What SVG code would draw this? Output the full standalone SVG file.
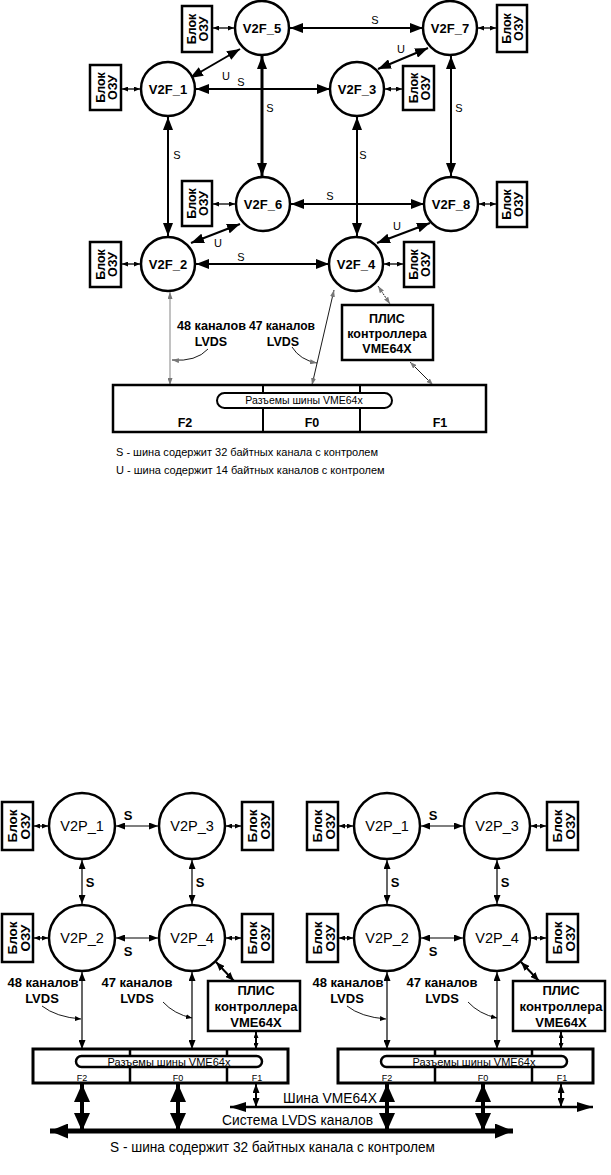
<svg xmlns="http://www.w3.org/2000/svg" width="611" height="1175" viewBox="0 0 611 1175">
<style>
text{font-family:"Liberation Sans",Arial,sans-serif;fill:#000}
.c{fill:#fff;stroke:#000;stroke-width:2.5}
.bx{fill:#fff;stroke:#000;stroke-width:2.5}
.nl{font-size:13px;font-weight:bold;text-anchor:middle}
.pl{font-size:14.5px;text-anchor:middle}
.bt{font-size:12.5px;font-weight:bold;text-anchor:middle}
.bt2{font-size:13.5px;font-weight:bold;text-anchor:middle}
.el{font-size:11px;text-anchor:middle}
.el2{font-size:13px;font-weight:bold;text-anchor:middle}
.lb{font-size:12.5px;font-weight:bold;text-anchor:middle}
.lb2{font-size:13px;font-weight:bold;text-anchor:middle}
.e2{stroke:#000;stroke-width:2;fill:none}
.e3{stroke:#000;stroke-width:3;fill:none}
.e1{stroke:#000;stroke-width:1.2;fill:none}
.es{stroke:#000;stroke-width:1.3;fill:none}
.eg{stroke:#999;stroke-width:1.2;fill:none}
.ef{stroke:#000;stroke-width:0.9;fill:none}
</style>
<defs>
<marker id="ab" markerUnits="userSpaceOnUse" viewBox="0 0 13 10" refX="13" refY="5" markerWidth="13" markerHeight="10" orient="auto-start-reverse"><path d="M0,0 L13,5 L0,10 z" fill="#000"/></marker>
<marker id="am" markerUnits="userSpaceOnUse" viewBox="0 0 9 7" refX="9" refY="3.5" markerWidth="9" markerHeight="7" orient="auto-start-reverse"><path d="M0,0 L9,3.5 L0,7 z" fill="#000"/></marker>
<marker id="as" markerUnits="userSpaceOnUse" viewBox="0 0 6 5" refX="6" refY="2.5" markerWidth="6" markerHeight="5" orient="auto-start-reverse"><path d="M0,0 L6,2.5 L0,5 z" fill="#000"/></marker>
<marker id="ag" markerUnits="userSpaceOnUse" viewBox="0 0 7 5" refX="7" refY="2.5" markerWidth="7" markerHeight="5" orient="auto-start-reverse"><path d="M0,0 L7,2.5 L0,5 z" fill="#777"/></marker>
<marker id="ah" markerUnits="userSpaceOnUse" viewBox="0 0 18 16" refX="18" refY="8" markerWidth="18" markerHeight="16" orient="auto-start-reverse"><path d="M0,0 L18,8 L0,16 z" fill="#000"/></marker>
<marker id="av" markerUnits="userSpaceOnUse" viewBox="0 0 16 10" refX="16" refY="5" markerWidth="16" markerHeight="10" orient="auto-start-reverse"><path d="M0,0 L16,5 L0,10 z" fill="#000"/></marker>
<marker id="al" markerUnits="userSpaceOnUse" viewBox="0 0 18 15" refX="18" refY="7.5" markerWidth="18" markerHeight="15" orient="auto-start-reverse"><path d="M0,0 L18,7.5 L0,15 z" fill="#000"/></marker>
</defs>
<rect width="611" height="1175" fill="#fff"/>

<!-- ===== TOP DIAGRAM CONNECTORS ===== -->
<g id="connectors-top">
<line class="e2" x1="290" y1="28" x2="423" y2="28" marker-start="url(#ab)" marker-end="url(#ab)"/>
<line class="e2" x1="196" y1="89" x2="330" y2="89" marker-start="url(#ab)" marker-end="url(#ab)"/>
<line class="e2" x1="291" y1="204" x2="424" y2="204" marker-start="url(#ab)" marker-end="url(#ab)"/>
<line class="e2" x1="196" y1="264" x2="329" y2="264" marker-start="url(#ab)" marker-end="url(#ab)"/>
<line class="e2" x1="168" y1="117" x2="168" y2="236" marker-start="url(#ab)" marker-end="url(#ab)"/>
<line class="e3" x1="262" y1="56" x2="262" y2="176" marker-start="url(#ab)" marker-end="url(#ab)"/>
<line class="e2" x1="357" y1="117" x2="357" y2="236" marker-start="url(#ab)" marker-end="url(#ab)"/>
<line class="e2" x1="451" y1="56" x2="451" y2="176" marker-start="url(#ab)" marker-end="url(#ab)"/>
<line class="e2" x1="190" y1="78" x2="240" y2="49" marker-start="url(#ab)" marker-end="url(#ab)"/>
<line class="e2" x1="378" y1="69" x2="428" y2="48" marker-start="url(#ab)" marker-end="url(#ab)"/>
<line class="e2" x1="191" y1="243" x2="240" y2="224" marker-start="url(#ab)" marker-end="url(#ab)"/>
<line class="e2" x1="377" y1="243" x2="430" y2="223" marker-start="url(#ab)" marker-end="url(#ab)"/>
<line class="es" x1="213" y1="28" x2="234" y2="28" marker-start="url(#as)" marker-end="url(#as)"/>
<line class="es" x1="122" y1="89" x2="140" y2="89" marker-start="url(#as)" marker-end="url(#as)"/>
<line class="es" x1="478" y1="28" x2="496" y2="28" marker-start="url(#as)" marker-end="url(#as)"/>
<line class="es" x1="385" y1="89" x2="402" y2="89" marker-start="url(#as)" marker-end="url(#as)"/>
<line class="es" x1="213" y1="204" x2="235" y2="204" marker-start="url(#as)" marker-end="url(#as)"/>
<line class="es" x1="122" y1="264" x2="140" y2="264" marker-start="url(#as)" marker-end="url(#as)"/>
<line class="es" x1="479" y1="204" x2="496" y2="204" marker-start="url(#as)" marker-end="url(#as)"/>
<line class="es" x1="384" y1="264" x2="403" y2="264" marker-start="url(#as)" marker-end="url(#as)"/>
<line class="eg" x1="170" y1="292" x2="170" y2="385" marker-start="url(#ag)" marker-end="url(#ag)"/>
<line class="ef" x1="334" y1="290" x2="312" y2="385" marker-start="url(#ag)" marker-end="url(#ag)"/>
<line class="ef" x1="378" y1="286" x2="390" y2="304" stroke-dasharray="2,1" marker-start="url(#ag)" marker-end="url(#ag)"/>
<line class="ef" x1="410" y1="362" x2="433" y2="385" marker-start="url(#ag)" marker-end="url(#ag)"/>
<path class="ef" d="M208,349 Q196,362 172,360" marker-end="url(#ag)"/>
<path class="ef" d="M292,347 Q300,360 317,363" marker-end="url(#ag)"/>
</g>

<g id="edge-labels-top">
<text class="el" x="375" y="24">S</text>
<text class="el" x="241" y="86">S</text>
<text class="el" x="330" y="200">S</text>
<text class="el" x="241" y="261">S</text>
<text class="el" x="177" y="159">S</text>
<text class="el" x="270" y="112">S</text>
<text class="el" x="363" y="159">S</text>
<text class="el" x="459" y="112">S</text>
<text class="el" x="226" y="80">U</text>
<text class="el" x="401" y="53">U</text>
<text class="el" x="218" y="247">U</text>
<text class="el" x="397" y="230">U</text>
</g>

<!-- ===== TOP NODES ===== -->
<g id="V2F_5"><circle class="c" cx="262" cy="28" r="27"/><text class="nl" x="262" y="33">V2F_5</text></g>
<g id="V2F_7"><circle class="c" cx="450" cy="28" r="27"/><text class="nl" x="450" y="33">V2F_7</text></g>
<g id="V2F_1"><circle class="c" cx="168" cy="89" r="27"/><text class="nl" x="168" y="94">V2F_1</text></g>
<g id="V2F_3"><circle class="c" cx="357" cy="89" r="27"/><text class="nl" x="357" y="94">V2F_3</text></g>
<g id="V2F_6"><circle class="c" cx="263" cy="204" r="27"/><text class="nl" x="263" y="209">V2F_6</text></g>
<g id="V2F_8"><circle class="c" cx="451" cy="204" r="27"/><text class="nl" x="451" y="209">V2F_8</text></g>
<g id="V2F_2"><circle class="c" cx="168" cy="264" r="27"/><text class="nl" x="168" y="269">V2F_2</text></g>
<g id="V2F_4"><circle class="c" cx="356" cy="264" r="27"/><text class="nl" x="356" y="269">V2F_4</text></g>

<g id="ram-5"><rect class="bx" x="182" y="6" width="30" height="46"/><text class="bt" transform="translate(197,29) rotate(-90)"><tspan x="0" y="-1">Блок</tspan><tspan x="0" y="11">ОЗУ</tspan></text></g>
<g id="ram-1"><rect class="bx" x="90" y="65" width="31" height="45"/><text class="bt" transform="translate(105.5,87.5) rotate(-90)"><tspan x="0" y="-1">Блок</tspan><tspan x="0" y="11">ОЗУ</tspan></text></g>
<g id="ram-7"><rect class="bx" x="497" y="5" width="30" height="47"/><text class="bt" transform="translate(512,28.5) rotate(-90)"><tspan x="0" y="-1">Блок</tspan><tspan x="0" y="11">ОЗУ</tspan></text></g>
<g id="ram-3"><rect class="bx" x="403" y="66" width="31" height="44"/><text class="bt" transform="translate(418.5,88) rotate(-90)"><tspan x="0" y="-1">Блок</tspan><tspan x="0" y="11">ОЗУ</tspan></text></g>
<g id="ram-6"><rect class="bx" x="182" y="181" width="30" height="45"/><text class="bt" transform="translate(197,203.5) rotate(-90)"><tspan x="0" y="-1">Блок</tspan><tspan x="0" y="11">ОЗУ</tspan></text></g>
<g id="ram-2"><rect class="bx" x="90" y="242" width="31" height="45"/><text class="bt" transform="translate(105.5,264.5) rotate(-90)"><tspan x="0" y="-1">Блок</tspan><tspan x="0" y="11">ОЗУ</tspan></text></g>
<g id="ram-8"><rect class="bx" x="497" y="182" width="30" height="45"/><text class="bt" transform="translate(512,204.5) rotate(-90)"><tspan x="0" y="-1">Блок</tspan><tspan x="0" y="11">ОЗУ</tspan></text></g>
<g id="ram-4"><rect class="bx" x="404" y="242" width="30" height="45"/><text class="bt" transform="translate(419,264.5) rotate(-90)"><tspan x="0" y="-1">Блок</tspan><tspan x="0" y="11">ОЗУ</tspan></text></g>

<g id="plis-top"><rect class="bx" x="342" y="305" width="91" height="55"/>
<text class="lb" x="387" y="323">ПЛИС</text><text class="lb" x="387" y="338">контроллера</text><text class="lb" x="387" y="353">VME64X</text></g>

<g id="connectors-box-top">
<rect fill="#fff" stroke="#000" stroke-width="2.5" x="113" y="385" width="373" height="47"/>
<line stroke="#000" stroke-width="2" x1="263" y1="385" x2="263" y2="432"/>
<line stroke="#000" stroke-width="2" x1="360" y1="385" x2="360" y2="432"/>
<rect fill="#fff" stroke="#000" stroke-width="2" x="217" y="393" width="175" height="15" rx="7.5"/>
<text x="304" y="404" font-size="10.5" text-anchor="middle">Разъемы шины VME64x</text>
<text class="lb" x="185" y="427">F2</text><text class="lb" x="312" y="427">F0</text><text class="lb" x="440" y="427">F1</text>
</g>

<g id="labels-top">
<text class="lb" x="177" y="330" text-anchor="start" textLength="69" lengthAdjust="spacingAndGlyphs" style="text-anchor:start">48 каналов</text><text class="lb" x="211" y="346">LVDS</text>
<text class="lb" x="249" y="330" textLength="66" lengthAdjust="spacingAndGlyphs" style="text-anchor:start">47 каналов</text><text class="lb" x="283" y="346">LVDS</text>
<text x="116" y="456" font-size="11">S - шина содержит 32 байтных канала с контролем</text>
<text x="116" y="474" font-size="11">U - шина содержит 14 байтных каналов с контролем</text>
</g>

<!-- ===== BOTTOM DIAGRAM ===== -->
<g id="connectors-bottom">
<g id="conn-left">
<line class="es" x1="34" y1="826" x2="48" y2="826" marker-start="url(#as)" marker-end="url(#as)"/>
<line class="es" x1="34" y1="938" x2="48" y2="938" marker-start="url(#as)" marker-end="url(#as)"/>
<line class="es" x1="226" y1="826" x2="241" y2="826" marker-start="url(#as)" marker-end="url(#as)"/>
<line class="es" x1="226" y1="938" x2="241" y2="938" marker-start="url(#as)" marker-end="url(#as)"/>
<line class="e1" x1="116" y1="826" x2="158" y2="826" marker-start="url(#am)" marker-end="url(#am)"/>
<line class="e1" x1="116" y1="938" x2="158" y2="938" marker-start="url(#am)" marker-end="url(#am)"/>
<line class="e1" x1="82" y1="860" x2="82" y2="904" marker-start="url(#am)" marker-end="url(#am)"/>
<line class="e1" x1="192" y1="860" x2="192" y2="904" marker-start="url(#am)" marker-end="url(#am)"/>
<line class="e1" x1="82" y1="972" x2="82" y2="1049" marker-start="url(#am)" marker-end="url(#am)"/>
<line class="e1" x1="192" y1="972" x2="192" y2="1049" marker-start="url(#am)" marker-end="url(#am)"/>
<line class="e2" x1="216" y1="962" x2="234" y2="981" marker-start="url(#am)" marker-end="url(#am)"/>
<line class="e2" x1="256" y1="1032" x2="256" y2="1049" marker-start="url(#as)" marker-end="url(#as)"/>
<line class="e2" x1="256" y1="1084" x2="256" y2="1107" marker-start="url(#am)" marker-end="url(#am)"/>
<line stroke="#000" stroke-width="4" x1="82" y1="1084" x2="82" y2="1131" marker-start="url(#ah)" marker-end="url(#ah)"/>
<line stroke="#000" stroke-width="4" x1="178" y1="1084" x2="178" y2="1131" marker-start="url(#ah)" marker-end="url(#ah)"/>
<path class="ef" d="M42,1006 Q56,1017 81,1019" marker-end="url(#as)"/>
<path class="ef" d="M163,1002 Q174,1014 192,1018" marker-end="url(#as)"/>
</g>
<g id="conn-right" transform="translate(305,0)">
<line class="es" x1="34" y1="826" x2="48" y2="826" marker-start="url(#as)" marker-end="url(#as)"/>
<line class="es" x1="34" y1="938" x2="48" y2="938" marker-start="url(#as)" marker-end="url(#as)"/>
<line class="es" x1="226" y1="826" x2="241" y2="826" marker-start="url(#as)" marker-end="url(#as)"/>
<line class="es" x1="226" y1="938" x2="241" y2="938" marker-start="url(#as)" marker-end="url(#as)"/>
<line class="e1" x1="116" y1="826" x2="158" y2="826" marker-start="url(#am)" marker-end="url(#am)"/>
<line class="e1" x1="116" y1="938" x2="158" y2="938" marker-start="url(#am)" marker-end="url(#am)"/>
<line class="e1" x1="82" y1="860" x2="82" y2="904" marker-start="url(#am)" marker-end="url(#am)"/>
<line class="e1" x1="192" y1="860" x2="192" y2="904" marker-start="url(#am)" marker-end="url(#am)"/>
<line class="e1" x1="82" y1="972" x2="82" y2="1049" marker-start="url(#am)" marker-end="url(#am)"/>
<line class="e1" x1="192" y1="972" x2="192" y2="1049" marker-start="url(#am)" marker-end="url(#am)"/>
<line class="e2" x1="216" y1="962" x2="234" y2="981" marker-start="url(#am)" marker-end="url(#am)"/>
<line class="e2" x1="256" y1="1032" x2="256" y2="1049" marker-start="url(#as)" marker-end="url(#as)"/>
<line class="e2" x1="256" y1="1084" x2="256" y2="1107" marker-start="url(#am)" marker-end="url(#am)"/>
<line stroke="#000" stroke-width="4" x1="82" y1="1084" x2="82" y2="1131" marker-start="url(#ah)" marker-end="url(#ah)"/>
<line stroke="#000" stroke-width="4" x1="178" y1="1084" x2="178" y2="1131" marker-start="url(#ah)" marker-end="url(#ah)"/>
<path class="ef" d="M42,1006 Q56,1017 81,1019" marker-end="url(#as)"/>
<path class="ef" d="M163,1002 Q174,1014 192,1018" marker-end="url(#as)"/>
</g>
<line stroke="#000" stroke-width="2.5" x1="230" y1="1107" x2="593" y2="1107" marker-start="url(#av)" marker-end="url(#av)"/>
<line stroke="#000" stroke-width="5" x1="50" y1="1131" x2="513" y2="1131" marker-start="url(#al)" marker-end="url(#al)"/>
</g>

<g id="bottom-left">
<g id="L-V2P_1"><circle class="c" cx="82" cy="826" r="33"/><text class="pl" x="82" y="831">V2P_1</text></g>
<g id="L-V2P_3"><circle class="c" cx="192" cy="826" r="33"/><text class="pl" x="192" y="831">V2P_3</text></g>
<g id="L-V2P_2"><circle class="c" cx="82" cy="938" r="33"/><text class="pl" x="82" y="943">V2P_2</text></g>
<g id="L-V2P_4"><circle class="c" cx="192" cy="938" r="33"/><text class="pl" x="192" y="943">V2P_4</text></g>
<g id="L-ram-1"><rect class="bx" x="2" y="802" width="31" height="48"/><text class="bt2" transform="translate(17.5,826) rotate(-90)"><tspan x="0" y="-1">Блок</tspan><tspan x="0" y="12">ОЗУ</tspan></text></g>
<g id="L-ram-2"><rect class="bx" x="2" y="914" width="31" height="48"/><text class="bt2" transform="translate(17.5,938) rotate(-90)"><tspan x="0" y="-1">Блок</tspan><tspan x="0" y="12">ОЗУ</tspan></text></g>
<g id="L-ram-3"><rect class="bx" x="242" y="802" width="31" height="48"/><text class="bt2" transform="translate(257.5,826) rotate(-90)"><tspan x="0" y="-1">Блок</tspan><tspan x="0" y="12">ОЗУ</tspan></text></g>
<g id="L-ram-4"><rect class="bx" x="242" y="914" width="31" height="48"/><text class="bt2" transform="translate(257.5,938) rotate(-90)"><tspan x="0" y="-1">Блок</tspan><tspan x="0" y="12">ОЗУ</tspan></text></g>
<g id="L-labels">
<text class="el2" x="128" y="820">S</text><text class="el2" x="128" y="956">S</text>
<text class="el2" x="90" y="887">S</text><text class="el2" x="200" y="887">S</text>
<text class="lb2" x="43" y="987">48 каналов</text><text class="lb2" x="42" y="1003">LVDS</text>
<text class="lb2" x="137" y="987">47 каналов</text><text class="lb2" x="137" y="1003">LVDS</text>
</g>
<g id="L-plis"><rect class="bx" x="208" y="981" width="92" height="50"/>
<text class="lb2" x="256" y="995">ПЛИС</text><text class="lb2" x="256" y="1011">контроллера</text><text class="lb2" x="256" y="1027">VME64X</text></g>
<g id="L-conn"><rect fill="#fff" stroke="#000" stroke-width="3" x="33" y="1049" width="255" height="34"/>
<line stroke="#000" stroke-width="2.5" x1="130" y1="1049" x2="130" y2="1083"/>
<line stroke="#000" stroke-width="2.5" x1="227" y1="1049" x2="227" y2="1083"/>
<rect fill="#fff" stroke="#000" stroke-width="2.5" x="76" y="1056" width="186" height="11" rx="5.5"/>
<text x="169" y="1065.5" font-size="11" text-anchor="middle">Разъемы шины VME64x</text>
<text x="82" y="1081" font-size="9" text-anchor="middle">F2</text><text x="178" y="1081" font-size="9" text-anchor="middle">F0</text><text x="257" y="1081" font-size="9" text-anchor="middle">F1</text></g>
</g>

<g id="bottom-right" transform="translate(305,0)">
<g id="R-V2P_1"><circle class="c" cx="82" cy="826" r="33"/><text class="pl" x="82" y="831">V2P_1</text></g>
<g id="R-V2P_3"><circle class="c" cx="192" cy="826" r="33"/><text class="pl" x="192" y="831">V2P_3</text></g>
<g id="R-V2P_2"><circle class="c" cx="82" cy="938" r="33"/><text class="pl" x="82" y="943">V2P_2</text></g>
<g id="R-V2P_4"><circle class="c" cx="192" cy="938" r="33"/><text class="pl" x="192" y="943">V2P_4</text></g>
<g id="R-ram-1"><rect class="bx" x="2" y="802" width="31" height="48"/><text class="bt2" transform="translate(17.5,826) rotate(-90)"><tspan x="0" y="-1">Блок</tspan><tspan x="0" y="12">ОЗУ</tspan></text></g>
<g id="R-ram-2"><rect class="bx" x="2" y="914" width="31" height="48"/><text class="bt2" transform="translate(17.5,938) rotate(-90)"><tspan x="0" y="-1">Блок</tspan><tspan x="0" y="12">ОЗУ</tspan></text></g>
<g id="R-ram-3"><rect class="bx" x="242" y="802" width="31" height="48"/><text class="bt2" transform="translate(257.5,826) rotate(-90)"><tspan x="0" y="-1">Блок</tspan><tspan x="0" y="12">ОЗУ</tspan></text></g>
<g id="R-ram-4"><rect class="bx" x="242" y="914" width="31" height="48"/><text class="bt2" transform="translate(257.5,938) rotate(-90)"><tspan x="0" y="-1">Блок</tspan><tspan x="0" y="12">ОЗУ</tspan></text></g>
<g id="R-labels">
<text class="el2" x="128" y="820">S</text><text class="el2" x="128" y="956">S</text>
<text class="el2" x="90" y="887">S</text><text class="el2" x="200" y="887">S</text>
<text class="lb2" x="43" y="987">48 каналов</text><text class="lb2" x="42" y="1003">LVDS</text>
<text class="lb2" x="137" y="987">47 каналов</text><text class="lb2" x="137" y="1003">LVDS</text>
</g>
<g id="R-plis"><rect class="bx" x="208" y="981" width="92" height="50"/>
<text class="lb2" x="256" y="995">ПЛИС</text><text class="lb2" x="256" y="1011">контроллера</text><text class="lb2" x="256" y="1027">VME64X</text></g>
<g id="R-conn"><rect fill="#fff" stroke="#000" stroke-width="3" x="33" y="1049" width="255" height="34"/>
<line stroke="#000" stroke-width="2.5" x1="130" y1="1049" x2="130" y2="1083"/>
<line stroke="#000" stroke-width="2.5" x1="227" y1="1049" x2="227" y2="1083"/>
<rect fill="#fff" stroke="#000" stroke-width="2.5" x="76" y="1056" width="186" height="11" rx="5.5"/>
<text x="169" y="1065.5" font-size="11" text-anchor="middle">Разъемы шины VME64x</text>
<text x="82" y="1081" font-size="9" text-anchor="middle">F2</text><text x="178" y="1081" font-size="9" text-anchor="middle">F0</text><text x="257" y="1081" font-size="9" text-anchor="middle">F1</text></g>
</g>

<g id="bus-labels">
<text x="283" y="1103" font-size="14" textLength="94" lengthAdjust="spacingAndGlyphs">Шина VME64X</text>
<text x="222" y="1125" font-size="14" textLength="151" lengthAdjust="spacingAndGlyphs">Система LVDS каналов</text>
<text x="110" y="1152" font-size="14" textLength="325" lengthAdjust="spacingAndGlyphs">S - шина содержит 32 байтных канала с контролем</text>
</g>
</svg>
